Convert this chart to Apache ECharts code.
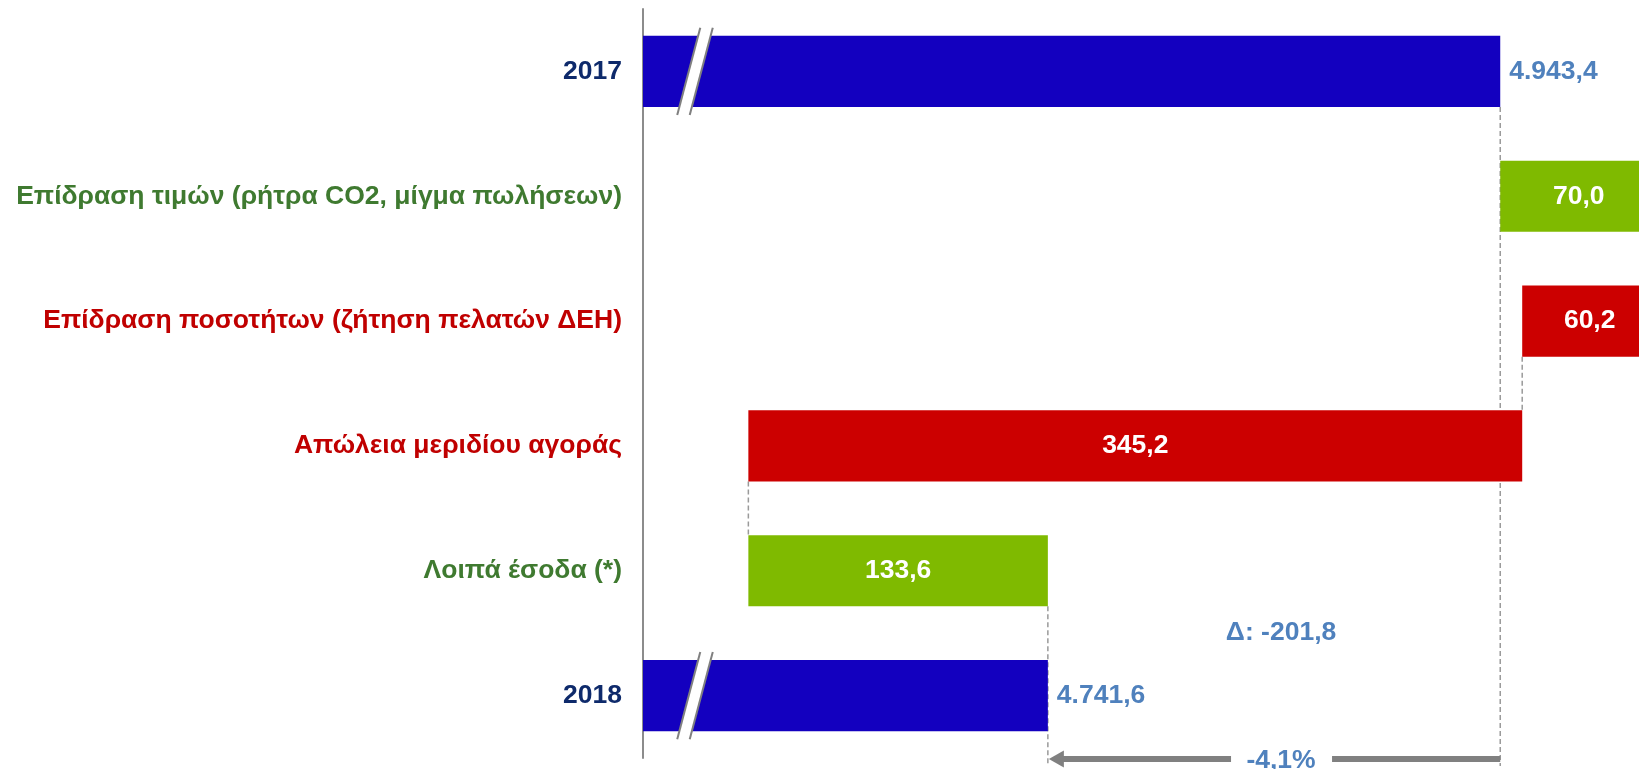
<!DOCTYPE html>
<html>
<head>
<meta charset="utf-8">
<script src="https://cdn.jsdelivr.net/npm/echarts@6/dist/echarts.min.js"></script>
<style>
html,body{margin:0;padding:0;background:#fff;}
#c{width:1639px;height:769px;}
</style>
</head>
<body>
<div id="c"></div>
<script>
// ---- data ----
const categories = [
  '2017',
  'Επίδραση τιμών (ρήτρα CO2, μίγμα πωλήσεων)',
  'Επίδραση ποσοτήτων (ζήτηση πελατών ΔΕΗ)',
  'Απώλεια μεριδίου αγοράς',
  'Λοιπά έσοδα (*)',
  '2018'
];
const startValue = 4943.4;
const changes = [70.0, -60.2, -345.2, 133.6];
const endValue = 4741.6;
const axisMin = 4561;
const axisMax = 5005.3;

// ---- styles ----
const FONT = '"Liberation Sans", Arial, sans-serif';
const FS = 26.5;
const BLUE = '#1300BF', GREEN = '#7FBA00', RED = '#CC0000';
const TXT_TOTAL = '#0E2A6B', TXT_POS = '#3F7A30', TXT_NEG = '#C00000';
const VAL_BLUE = '#4F81BD';
const GRAY = '#808080';

function fmt(v, d) {
  d = d === undefined ? 1 : d;
  const neg = v < 0;
  let s = Math.abs(v).toFixed(d);
  let [ip, fp] = s.split('.');
  ip = ip.replace(/\B(?=(\d{3})+(?!\d))/g, '.');
  return (neg ? '-' : '') + ip + (fp ? ',' + fp : '');
}

// build waterfall
const n = categories.length;
const helper = ['-'];
const changeBars = ['-'];
const totals = [startValue];
const colors = [BLUE];
const running = [startValue];
let cur = startValue;
changes.forEach(c => {
  if (c >= 0) { helper.push(cur); colors.push(GREEN); }
  else { helper.push(cur + c); colors.push(RED); }
  changeBars.push(Math.abs(c));
  totals.push('-');
  cur += c;
  running.push(cur);
});
helper.push('-');
changeBars.push('-');
totals.push(endValue);
colors.push(BLUE);

const labelColors = colors.map((c, i) => (i === 0 || i === n - 1) ? TXT_TOTAL : (c === GREEN ? TXT_POS : TXT_NEG));

const chart = echarts.init(document.getElementById('c'));
const option = {
  animation: false,
  backgroundColor: '#fff',
  grid: { left: 643, top: 9, right: 0, height: 749 },
  xAxis: { type: 'value', min: axisMin, max: axisMax, show: false },
  yAxis: {
    type: 'category', data: categories, inverse: true,
    axisLine: { lineStyle: { color: '#8c8c8c', width: 2 } },
    axisTick: { show: false },
    splitLine: { show: false },
    axisLabel: {
      margin: 21, fontSize: FS, fontWeight: 'bold', fontFamily: FONT,
      color: (val, idx) => labelColors[idx]
    }
  },
  series: [
    {
      type: 'bar', stack: 'w', silent: true, barWidth: '57%', barGap: '-100%', clip: false,
      itemStyle: { color: 'transparent' },
      data: helper
    },
    {
      type: 'bar', stack: 'w', barWidth: '57%', barGap: '-100%', z: 3, clip: false,
      data: changeBars.map((v, i) => v === '-' ? '-' : {
        value: v,
        itemStyle: { color: colors[i] },
        label: {
          show: true, position: 'inside',
          color: '#fff', fontSize: FS, fontWeight: 'bold', fontFamily: FONT,
          formatter: () => fmt(v)
        }
      })
    },
    {
      type: 'bar', barWidth: '57%', barGap: '-100%', z: 3, clip: true,
      data: totals.map((v, i) => v === '-' ? '-' : {
        value: v,
        itemStyle: { color: colors[i] },
        label: {
          show: true, position: 'right', distance: 9,
          color: VAL_BLUE, fontSize: FS, fontWeight: 'bold', fontFamily: FONT,
          formatter: () => fmt(v)
        }
      })
    }
  ]
};
chart.setOption(option);

// ---- decorations computed from the scales ----
const P = (v, i) => chart.convertToPixel({ gridIndex: 0 }, [v, i]);
const band = P(axisMin, 1)[1] - P(axisMin, 0)[1];
const half = band * 0.57 / 2;
const gridBottom = P(axisMin, n - 1)[1] + band / 2;
const arrowY = gridBottom + 1;
const els = [];
const dash = { stroke: '#9a9a9a', lineWidth: 1.5, lineDash: [5, 3] };

function vline(x, y1, y2) {
  els.push({ type: 'line', z: 1, shape: { x1: x, y1: y1, x2: x, y2: y2 }, style: dash });
}
// connectors
const xs = P(startValue, 0)[0];
const xe = P(endValue, n - 1)[0];
vline(xs, P(startValue, 0)[1] + half, arrowY + 7);
vline(xe, P(endValue, n - 2)[1] + half, arrowY + 7);
for (let i = 1; i < n - 2; i++) {
  const x = P(running[i], i)[0];
  vline(x, P(running[i], i)[1] + half, P(running[i], i + 1)[1] - half);
}

// axis break marks on total bars
[0, n - 1].forEach(i => {
  const cy = P(axisMin, i)[1];
  const cx = P(axisMin, i)[0] + 52;
  const h = half + 8;
  const dx = 11.5 * h / 43.5;
  const w = 12.5;
  const tl = [cx + dx - w / 2, cy - h], tr = [cx + dx + w / 2, cy - h];
  const bl = [cx - dx - w / 2, cy + h], br = [cx - dx + w / 2, cy + h];
  els.push({ type: 'polygon', z: 10, shape: { points: [tl, tr, br, bl] }, style: { fill: '#fff' } });
  els.push({ type: 'line', z: 11, shape: { x1: tl[0], y1: tl[1], x2: bl[0], y2: bl[1] }, style: { stroke: GRAY, lineWidth: 2 } });
  els.push({ type: 'line', z: 11, shape: { x1: tr[0], y1: tr[1], x2: br[0], y2: br[1] }, style: { stroke: GRAY, lineWidth: 2 } });
});

// delta text and arrow
const delta = endValue - startValue;
const pct = delta / startValue * 100;
const midX = (xs + xe) / 2 + 7;
const deltaY = (P(endValue, n - 2)[1] + P(endValue, n - 1)[1]) / 2;
els.push({
  type: 'text', z: 12, x: midX, y: deltaY,
  style: { text: 'Δ: ' + fmt(delta), fill: VAL_BLUE, font: 'bold ' + FS + 'px ' + FONT, align: 'center', verticalAlign: 'middle' }
});
const gapL = midX - 50, gapR = midX + 51;
els.push({ type: 'line', z: 12, shape: { x1: xe + 14, y1: arrowY, x2: gapL, y2: arrowY }, style: { stroke: GRAY, lineWidth: 6 } });
els.push({ type: 'line', z: 12, shape: { x1: gapR, y1: arrowY, x2: xs, y2: arrowY }, style: { stroke: GRAY, lineWidth: 6 } });
els.push({ type: 'polygon', z: 12, shape: { points: [[xe + 1, arrowY], [xe + 16, arrowY - 8.5], [xe + 16, arrowY + 8.5]] }, style: { fill: GRAY } });
els.push({
  type: 'text', z: 12, x: midX, y: arrowY + 2,
  style: { text: fmt(pct, 1) + '%', fill: VAL_BLUE, font: 'bold ' + FS + 'px ' + FONT, align: 'center', verticalAlign: 'middle' }
});

chart.setOption({ graphic: { elements: els } });
</script>
</body>
</html>
